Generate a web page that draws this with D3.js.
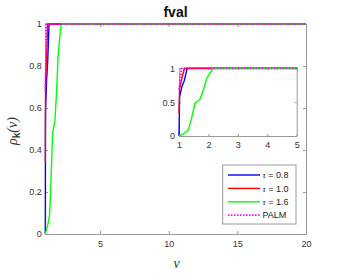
<!DOCTYPE html>
<html>
<head>
<meta charset="utf-8">
<script src="https://cdn.jsdelivr.net/npm/d3@7"></script>
<style>
  body { margin: 0; background: #fff; }
  svg { display: block; font-family: "Liberation Sans", Arial, sans-serif; }
  .axis path, .axis line { stroke: #9a9a9a; }
  .axis text { fill: #333; }
</style>
</head>
<body>
<script>
// performance profile data
const seriesNames = ["\u03c4 = 0.8", "\u03c4 = 1.0", "\u03c4 = 1.6", "PALM"];
const seriesColors = ["#0000ff", "#ff0000", "#00ff00", "#ff00ff"];

const nuBlue = [1, 1.02, 1.1, 1.18, 1.28, 20];
const rhoBlue = [0, 0.58, 0.73, 0.82, 1, 1];

const nuRed = [1, 1.02, 1.1, 1.19, 20];
const rhoRed = [0.34, 0.7, 0.86, 1, 1];

const nuGreen = [1, 1.15, 1.32, 1.42, 1.54, 1.71, 1.83, 1.94, 2.05, 2.17, 20];
const rhoGreen = [0, 0.03, 0.09, 0.25, 0.48, 0.54, 0.68, 0.85, 0.93, 1, 1];

const nuPalm = [1, 1.09, 20];
const rhoPalm = [0.68, 1, 1];

const mainXTicks = [5, 10, 15, 20];
const mainYTicks = [0, 0.2, 0.4, 0.6, 0.8, 1];
const insetXTicks = [1, 2, 3, 4, 5];
const insetYTicks = [0, 0.5, 1];

const series = [
  { nu: nuBlue, rho: rhoBlue },
  { nu: nuRed, rho: rhoRed },
  { nu: nuGreen, rho: rhoGreen },
  { nu: nuPalm, rho: rhoPalm }
].map((s, i) => ({
  name: seriesNames[i],
  color: seriesColors[i],
  dashed: i === 3,
  points: s.nu.map((v, j) => [v, s.rho[j]])
}));

const W = 338, H = 273;
const svg = d3.select("body").append("svg")
  .attr("width", W)
  .attr("height", H);

function drawAxes(box, xDomain, xTicks, yTicks, fontSize, tick, pad) {
  const x = d3.scaleLinear().domain(xDomain).range([box.left, box.right]);
  const y = d3.scaleLinear().domain([0, 1]).range([box.bottom, box.top]);
  const g = svg.append("g");

  g.append("rect")
    .attr("x", box.left).attr("y", box.top)
    .attr("width", box.right - box.left).attr("height", box.bottom - box.top)
    .attr("fill", "#fff");

  g.append("g").attr("class", "axis")
    .attr("transform", "translate(0," + box.bottom + ")")
    .style("font-size", fontSize + "px")
    .call(d3.axisBottom(x).tickValues(xTicks).tickSizeInner(-tick).tickSizeOuter(0).tickPadding(pad.x).tickFormat(d3.format("")));
  g.append("g").attr("class", "axis")
    .attr("transform", "translate(0," + box.top + ")")
    .call(d3.axisTop(x).tickValues(xTicks).tickSizeInner(-tick).tickSizeOuter(0).tickFormat(""));
  g.append("g").attr("class", "axis")
    .attr("transform", "translate(" + box.left + ",0)")
    .style("font-size", fontSize + "px")
    .call(d3.axisLeft(y).tickValues(yTicks).tickSizeInner(-tick).tickSizeOuter(0).tickPadding(pad.y).tickFormat(d3.format("")));
  g.append("g").attr("class", "axis")
    .attr("transform", "translate(" + box.right + ",0)")
    .call(d3.axisRight(y).tickValues(yTicks).tickSizeInner(-tick).tickSizeOuter(0).tickFormat(""));
  g.selectAll(".axis text").attr("font-family", null);

  const clipId = "clip" + Math.round(box.left);
  g.append("clipPath").attr("id", clipId)
    .append("rect")
    .attr("x", box.left - 1).attr("y", box.top - 1)
    .attr("width", box.right - box.left + 2).attr("height", box.bottom - box.top + 2);

  const line = d3.line().x(d => x(d[0])).y(d => y(d[1]));
  g.append("g").attr("clip-path", "url(#" + clipId + ")")
    .selectAll("path")
    .data(series)
    .join("path")
    .attr("d", d => line(d.points))
    .attr("fill", "none")
    .attr("stroke", d => d.color)
    .attr("stroke-width", d => d.dashed ? 1.8 : 1.4)
    .attr("stroke-dasharray", d => d.dashed ? "1.5,1.5" : null);
  return g;
}

// main axes
drawAxes({ left: 45.2, right: 306, top: 24, bottom: 234 }, [1, 20], mainXTicks, mainYTicks, 9, 3, { x: 7, y: 3.5 });

// inset axes
drawAxes({ left: 179, right: 296.7, top: 68.3, bottom: 136 }, [1, 5], insetXTicks, insetYTicks, 9, 2, { x: 6, y: 4 });

// title
svg.append("text")
  .attr("x", 175.5).attr("y", 16.5)
  .attr("text-anchor", "middle")
  .attr("font-size", 14).attr("font-weight", "bold")
  .attr("fill", "#111")
  .text("fval");

// x label
svg.append("text")
  .attr("x", 176.5).attr("y", 268)
  .attr("text-anchor", "middle")
  .attr("font-size", 14).attr("font-style", "italic")
  .attr("font-family", "'Liberation Serif', serif")
  .attr("fill", "#333")
  .text("\u03bd");

// y label
const yl = svg.append("text")
  .attr("transform", "translate(17,131) rotate(-90)")
  .attr("text-anchor", "middle")
  .attr("font-size", 14)
  .attr("fill", "#333");
yl.append("tspan").attr("font-style", "italic").attr("font-family", "'Liberation Serif', serif").text("\u03c1");
yl.append("tspan").attr("font-weight", "bold").attr("font-size", 10).attr("dy", 3).text("k");
yl.append("tspan").attr("dy", -3).attr("font-style", "italic").attr("font-family", "'Liberation Serif', serif").text("(\u03bd)");

// legend
const leg = svg.append("g");
leg.append("rect")
  .attr("x", 222.7).attr("y", 165)
  .attr("width", 73.3).attr("height", 59)
  .attr("fill", "#fff")
  .attr("stroke", "#9a9a9a");
const rows = leg.selectAll("g.row")
  .data(series)
  .join("g").attr("class", "row")
  .attr("transform", (d, i) => "translate(0," + (175 + i * 13.4) + ")");
rows.append("line")
  .attr("x1", 228).attr("x2", 260)
  .attr("stroke", d => d.color)
  .attr("stroke-width", d => d.dashed ? 1.8 : 1.4)
  .attr("stroke-dasharray", d => d.dashed ? "1.5,1.5" : null);
rows.append("text")
  .attr("x", 262.5).attr("dy", "0.35em")
  .attr("font-size", 9)
  .attr("fill", "#222")
  .each(function (d) {
    const t = d3.select(this);
    if (d.dashed) { t.text(d.name); return; }
    t.append("tspan").attr("font-style", "italic").attr("font-family", "'Liberation Serif', serif").text("\u03c4");
    t.append("tspan").text(d.name.slice(1));
  });
</script>
</body>
</html>
